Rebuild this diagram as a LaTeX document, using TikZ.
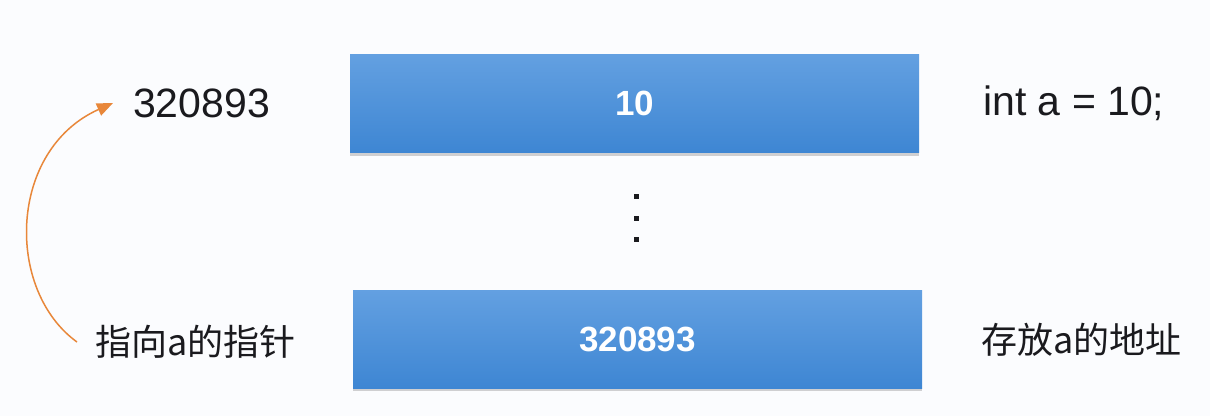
\documentclass[tikz,border=0pt]{standalone}
\usepackage{fontspec}
\setmainfont{Liberation Sans}
\newfontfamily\cjk{Noto Sans CJK SC}
\usetikzlibrary{shadows,arrows.meta}
\definecolor{bgc}{RGB}{251,252,254}
\definecolor{boxtop}{RGB}{99,160,225}
\definecolor{boxbot}{RGB}{62,134,211}
\definecolor{arrc}{RGB}{232,135,58}
\definecolor{txt}{RGB}{26,26,30}
\tikzset{
  membox/.style={minimum width=569pt, minimum height=98pt, inner sep=0pt,
    top color=boxtop, bottom color=boxbot, draw=none,
    drop shadow={shadow xshift=0pt, shadow yshift=-3pt, opacity=0.25, fill=black!70},
    text=white, font=\fontsize{35}{42}\selectfont\bfseries},
  lbl/.style={inner sep=0pt, text=txt, font=\fontsize{41}{49}\selectfont},
  cjklbl/.style={inner sep=0pt, text=txt, font=\cjk\fontsize{36}{44}\selectfont},
  vdot/.style={fill=txt, minimum size=5pt, inner sep=0pt},
  ptrarrow/.style={draw=arrc, line width=1.5pt, -{Triangle[length=16pt,width=13pt]}}
}
\begin{document}
\begin{tikzpicture}[x=1pt,y=-1pt]
\fill[bgc] (0,0) rectangle (1210,416);
\useasboundingbox (0,0) rectangle (1210,416);
\node[membox] (b1) at (634.5,103.5) {10};
\node[membox] (b2) at (637.5,339) {320893};
\node[vdot] (d1) at (636,196) {};
\node[vdot] (d2) at (636,218) {};
\node[vdot] (d3) at (636,239) {};
\node[lbl, anchor=west] (num) at (133,103) {320893};
\node[lbl, anchor=west] (decl) at (983,103) {int a = 10;};
\node[cjklbl, anchor=west] (ptr) at (95,342) {指向a的指针};
\node[cjklbl, anchor=west] (addr) at (981,340) {存放a的地址};
\coordinate (tail) at ([xshift=-18pt]ptr.west);
\coordinate (tip) at ([xshift=-20pt]num.west);
\draw[ptrarrow] (tail) .. controls (5,290) and (8,150) .. (tip);
\end{tikzpicture}
\end{document}
